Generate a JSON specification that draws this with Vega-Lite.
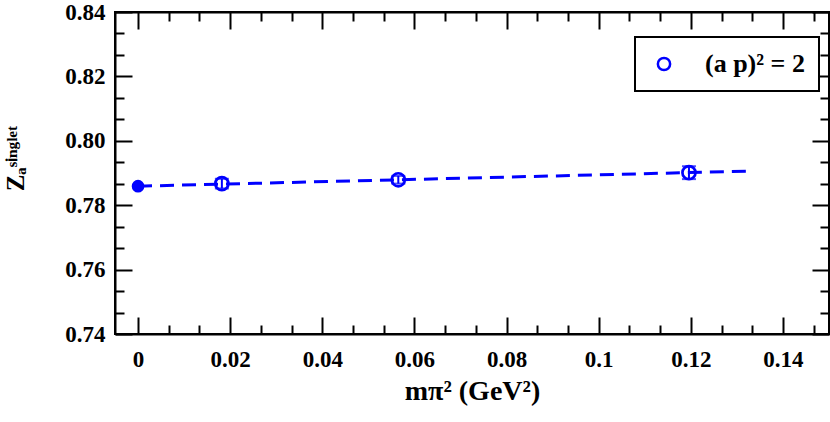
{
  "$schema": "https://vega.github.io/schema/vega-lite/v6.json",
  "width": 714,
  "height": 322,
  "autosize": {"type": "none"},
  "padding": {"left": 115, "top": 12, "right": 1, "bottom": 88},
  "background": "white",
  "config": {
    "view": {"stroke": "black", "strokeWidth": 2},
    "axis": {
      "domainColor": "black", "domainWidth": 2,
      "tickColor": "black", "tickWidth": 2,
      "labelFont": "Liberation Serif", "labelFontWeight": "bold", "labelFontSize": 23, "labelColor": "black",
      "titleFont": "Liberation Serif", "titleFontWeight": "bold", "titleFontSize": 28, "titleColor": "black",
      "grid": false, "labelOverlap": false
    },
    "legend": {
      "strokeColor": "black", "strokeWidth": 2, "fillColor": "white", "padding": 14,
      "labelFont": "Liberation Serif", "labelFontWeight": "bold", "labelFontSize": 26, "labelColor": "black",
      "symbolStrokeWidth": 2.5, "symbolSize": 150, "symbolOffset": 2, "labelOffset": 28
    }
  },
  "datasets": {
    "points": [
      {"m2": 0.0182, "Z": 0.7867, "lo": 0.7852, "hi": 0.7882, "series": "(a p)² = 2"},
      {"m2": 0.0565, "Z": 0.7879, "lo": 0.7867, "hi": 0.7891, "series": "(a p)² = 2"},
      {"m2": 0.1196, "Z": 0.7901, "lo": 0.7881, "hi": 0.7921, "series": "(a p)² = 2"}
    ],
    "extrap": [{"m2": 0, "Z": 0.7859}],
    "fit": [{"m2": 0, "Z": 0.7859}, {"m2": 0.133, "Z": 0.7906}]
  },
  "layer": [
    {
      "layer": [
        {
          "data": {"name": "fit"},
          "mark": {"type": "line", "color": "#0000ff", "strokeWidth": 3, "strokeDash": [14, 8]},
          "encoding": {
            "x": {
              "field": "m2", "type": "quantitative",
              "scale": {"domain": [-0.005, 0.15], "nice": false, "zero": false},
              "axis": {
                "orient": "bottom",
                "title": "mπ² (GeV²)",
                "values": [0, 0.02, 0.04, 0.06, 0.08, 0.1, 0.12, 0.14],
                "labelExpr": "format(datum.value, '~g')",
                "tickSize": -17,
                "labelPadding": 31,
                "titlePadding": 6
              }
            },
            "y": {
              "field": "Z", "type": "quantitative",
              "scale": {"domain": [0.74, 0.84], "nice": false, "zero": false},
              "axis": {
                "orient": "left",
                "title": "Zₐˢⁱⁿᵍˡᵉᵗ",
                "titleFontSize": 25,
                "titleX": -92,
                "titleY": 146,
                "titleBaseline": "alphabetic",
                "values": [0.74, 0.76, 0.78, 0.8, 0.82, 0.84],
                "format": ".2f",
                "tickSize": -17,
                "labelPadding": 27
              }
            }
          }
        },
        {
          "data": {"name": "points"},
          "mark": {"type": "rule", "color": "#0000ff", "strokeWidth": 2},
          "encoding": {
            "x": {"field": "m2", "type": "quantitative"},
            "y": {"field": "lo", "type": "quantitative"},
            "y2": {"field": "hi"}
          }
        },
        {
          "data": {"name": "points"},
          "mark": {"type": "tick", "orient": "horizontal", "color": "#0000ff", "thickness": 2, "size": 14},
          "encoding": {
            "x": {"field": "m2", "type": "quantitative"},
            "y": {"field": "lo", "type": "quantitative"}
          }
        },
        {
          "data": {"name": "points"},
          "mark": {"type": "tick", "orient": "horizontal", "color": "#0000ff", "thickness": 2, "size": 14},
          "encoding": {
            "x": {"field": "m2", "type": "quantitative"},
            "y": {"field": "hi", "type": "quantitative"}
          }
        },
        {
          "data": {"name": "points"},
          "mark": {"type": "point", "shape": "circle", "filled": false, "strokeWidth": 2.7, "size": 170, "opacity": 1},
          "encoding": {
            "x": {"field": "m2", "type": "quantitative"},
            "y": {"field": "Z", "type": "quantitative"},
            "color": {
              "field": "series", "type": "nominal",
              "scale": {"domain": ["(a p)² = 2"], "range": ["#0000ff"]},
              "legend": {"title": null, "orient": "none", "legendX": 520, "legendY": 25}
            }
          }
        },
        {
          "data": {"name": "extrap"},
          "mark": {"type": "point", "shape": "circle", "filled": true, "color": "#0000ff", "size": 160, "opacity": 1},
          "encoding": {
            "x": {"field": "m2", "type": "quantitative"},
            "y": {"field": "Z", "type": "quantitative"}
          }
        }
      ]
    },
    {
      "data": {"name": "fit"},
      "mark": {"type": "line", "opacity": 0},
      "encoding": {
        "x": {
          "field": "m2", "type": "quantitative",
          "scale": {"domain": [-0.005, 0.15], "nice": false, "zero": false},
          "axis": {
            "orient": "bottom", "title": null, "labels": false, "domain": false,
            "values": [0.0066667, 0.0133333, 0.0266667, 0.0333333, 0.0466667, 0.0533333, 0.0666667, 0.0733333, 0.0866667, 0.0933333, 0.1066667, 0.1133333, 0.1266667, 0.1333333, 0.1466667],
            "tickSize": -9
          }
        },
        "y": {
          "field": "Z", "type": "quantitative",
          "scale": {"domain": [0.74, 0.84], "nice": false, "zero": false},
          "axis": {
            "orient": "left", "title": null, "labels": false, "domain": false,
            "values": [0.7466667, 0.7533333, 0.7666667, 0.7733333, 0.7866667, 0.7933333, 0.8066667, 0.8133333, 0.8266667, 0.8333333],
            "tickSize": -9
          }
        }
      }
    },
    {
      "data": {"name": "fit"},
      "mark": {"type": "line", "opacity": 0},
      "encoding": {
        "x": {
          "field": "m2", "type": "quantitative",
          "scale": {"domain": [-0.005, 0.15], "nice": false, "zero": false},
          "axis": {
            "orient": "top", "title": null, "labels": false,
            "values": [0, 0.02, 0.04, 0.06, 0.08, 0.1, 0.12, 0.14],
            "tickSize": -17
          }
        },
        "y": {
          "field": "Z", "type": "quantitative",
          "scale": {"domain": [0.74, 0.84], "nice": false, "zero": false},
          "axis": {
            "orient": "right", "title": null, "labels": false,
            "values": [0.74, 0.76, 0.78, 0.8, 0.82, 0.84],
            "tickSize": -17
          }
        }
      }
    },
    {
      "data": {"name": "fit"},
      "mark": {"type": "line", "opacity": 0},
      "encoding": {
        "x": {
          "field": "m2", "type": "quantitative",
          "scale": {"domain": [-0.005, 0.15], "nice": false, "zero": false},
          "axis": {
            "orient": "top", "title": null, "labels": false, "domain": false,
            "values": [0.0066667, 0.0133333, 0.0266667, 0.0333333, 0.0466667, 0.0533333, 0.0666667, 0.0733333, 0.0866667, 0.0933333, 0.1066667, 0.1133333, 0.1266667, 0.1333333, 0.1466667],
            "tickSize": -9
          }
        },
        "y": {
          "field": "Z", "type": "quantitative",
          "scale": {"domain": [0.74, 0.84], "nice": false, "zero": false},
          "axis": {
            "orient": "right", "title": null, "labels": false, "domain": false,
            "values": [0.7466667, 0.7533333, 0.7666667, 0.7733333, 0.7866667, 0.7933333, 0.8066667, 0.8133333, 0.8266667, 0.8333333],
            "tickSize": -9
          }
        }
      }
    }
  ],
  "resolve": {"scale": {"x": "independent", "y": "independent"}}
}
